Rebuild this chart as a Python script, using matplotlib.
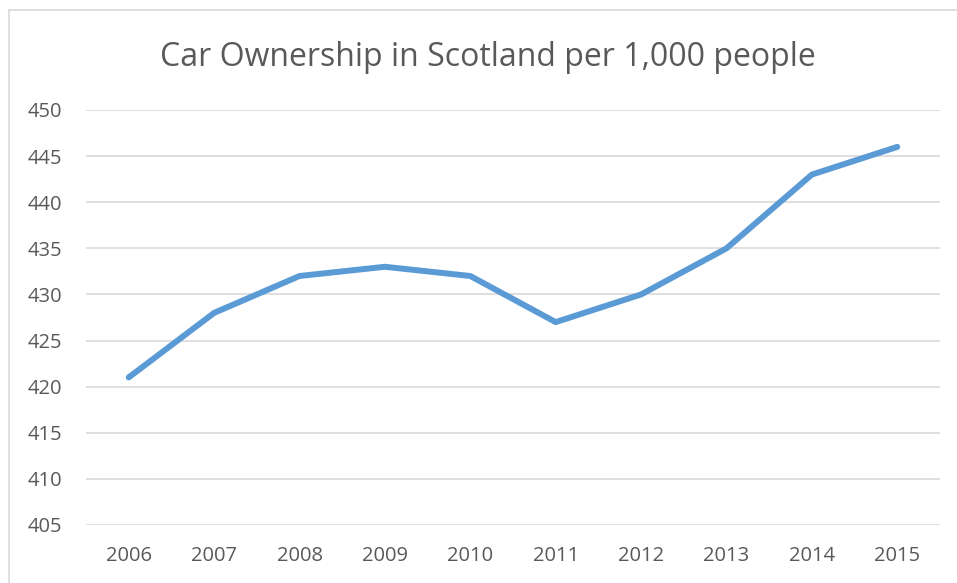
import matplotlib.pyplot as plt
from matplotlib.patches import Rectangle

#----data
years = ["2006", "2007", "2008", "2009", "2010", "2011", "2012", "2013", "2014", "2015"]
cars = [421, 428, 432, 433, 432, 427, 430, 435, 443, 446]
yticks = list(range(405, 451, 5))

plt.rcParams['font.family'] = ['Open Sans', 'DejaVu Sans']
txt = "#595959"

fig = plt.figure(figsize=(9.57, 5.83), dpi=100)
W, H = 957, 583
ax = fig.add_axes([86 / W, 1 - 525 / H, (940 - 86) / W, (525 - 110) / H])

#----chart border (only left/top visible in reference)
fig.patches.append(Rectangle((9 / W, -0.1), 1.2, 1 - 10 / H + 0.1, transform=fig.transFigure,
                             fill=False, edgecolor="#d9d9d9", linewidth=1.2))

ax.plot(range(len(years)), cars, color="#5b9bd5", linewidth=4.3, solid_capstyle="round",
        solid_joinstyle="round", zorder=3)

ax.set_xlim(-0.5, len(years) - 0.5)
ax.set_ylim(405, 450)
ax.set_yticks(yticks)
ax.set_xticks(range(len(years)))
ax.set_xticklabels(years)
ax.grid(axis="y", color="#d9d9d9", linewidth=1.2)
ax.set_axisbelow(True)
for s in ax.spines.values():
    s.set_visible(False)
ax.tick_params(axis="both", length=0, labelsize=14.5, colors=txt)
ax.tick_params(axis="x", pad=15)
ax.tick_params(axis="y", pad=17)

fig.text(488 / W, 1 - 57 / H, "Car Ownership in Scotland per 1,000 people", ha="center", va="center",
         fontsize=23, color=txt)

fig.savefig("out.png", dpi=100)
